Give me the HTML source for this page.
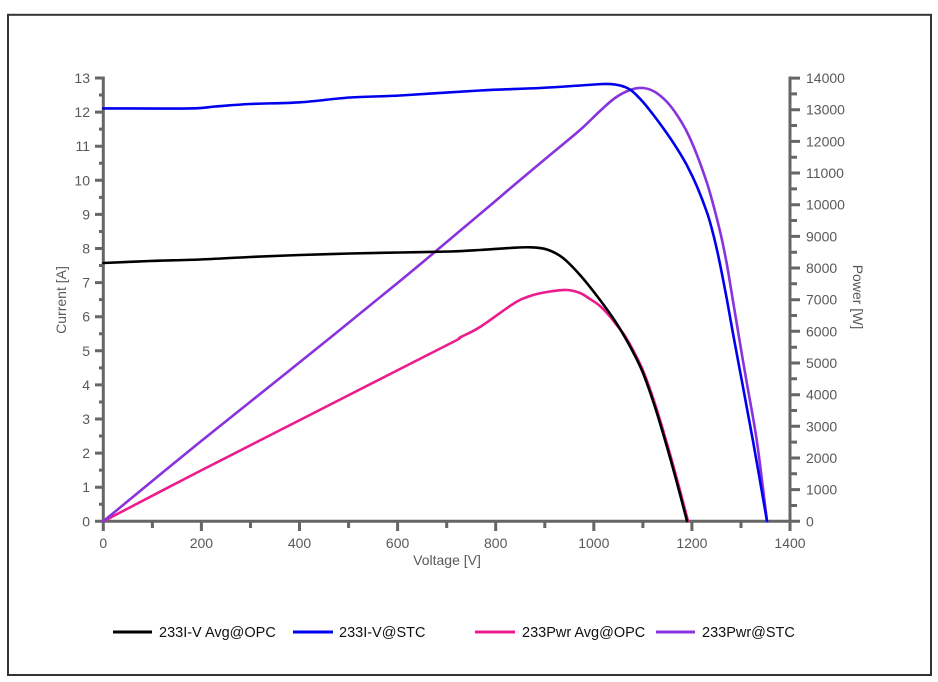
<!DOCTYPE html>
<html><head><meta charset="utf-8"><style>
html,body{margin:0;padding:0;background:#fff;}
svg{display:block;font-family:"Liberation Sans",Arial,sans-serif;}
</style></head><body>
<svg id="chart" width="938" height="682" viewBox="0 0 938 682" xmlns="http://www.w3.org/2000/svg">
<rect x="0" y="0" width="938" height="682" fill="#fff"/>
<rect x="8" y="14.8" width="923" height="660.2" fill="none" stroke="#333" stroke-width="2"/>

<g stroke="#666" stroke-width="3" fill="none">
<path d="M103.3 76.5 V522.8 M101.8 521.3 H791.5 M790 76.5 V522.8"/>
<path d="M95 521.3H103 M95 487.2H103 M95 453.1H103 M95 419H103 M95 384.9H103 M95 350.8H103 M95 316.7H103 M95 282.6H103 M95 248.5H103 M95 214.4H103 M95 180.3H103 M95 146.2H103 M95 112.1H103 M95 78H103"/>
<path d="M99 504.25H103 M99 470.15H103 M99 436.05H103 M99 401.95H103 M99 367.85H103 M99 333.75H103 M99 299.65H103 M99 265.55H103 M99 231.45H103 M99 197.35H103 M99 163.25H103 M99 129.15H103 M99 95.05H103"/>
<path d="M790 521.3H800 M790 489.6H800 M790 458H800 M790 426.3H800 M790 394.7H800 M790 363H800 M790 331.3H800 M790 299.7H800 M790 268H800 M790 236.4H800 M790 204.7H800 M790 173H800 M790 141.4H800 M790 109.7H800 M790 78.1H800"/>
<path d="M790 505.5H797 M790 473.8H797 M790 442.1H797 M790 410.5H797 M790 378.8H797 M790 347.2H797 M790 315.5H797 M790 283.8H797 M790 252.2H797 M790 220.5H797 M790 188.9H797 M790 157.2H797 M790 125.5H797 M790 93.9H797"/>
<path d="M103.3 521V531 M201.4 521V531 M299.5 521V531 M397.6 521V531 M495.7 521V531 M593.8 521V531 M691.9 521V531 M790 521V531"/>
<path d="M152.4 521V528 M250.5 521V528 M348.6 521V528 M446.7 521V528 M544.8 521V528 M642.9 521V528 M741 521V528"/>
</g>

<g fill="#595959" font-size="14">
<g text-anchor="end">
<text x="90" y="526.3">0</text><text x="90" y="492.2">1</text><text x="90" y="458.1">2</text><text x="90" y="424">3</text><text x="90" y="389.9">4</text><text x="90" y="355.8">5</text><text x="90" y="321.7">6</text><text x="90" y="287.6">7</text><text x="90" y="253.5">8</text><text x="90" y="219.4">9</text><text x="90" y="185.3">10</text><text x="90" y="151.2">11</text><text x="90" y="117.1">12</text><text x="90" y="83">13</text>
</g>
<g text-anchor="start">
<text x="806" y="526.3">0</text><text x="806" y="494.6">1000</text><text x="806" y="463">2000</text><text x="806" y="431.3">3000</text><text x="806" y="399.7">4000</text><text x="806" y="368">5000</text><text x="806" y="336.3">6000</text><text x="806" y="304.7">7000</text><text x="806" y="273">8000</text><text x="806" y="241.4">9000</text><text x="806" y="209.7">10000</text><text x="806" y="178">11000</text><text x="806" y="146.4">12000</text><text x="806" y="114.7">13000</text><text x="806" y="83.1">14000</text>
</g>
<g text-anchor="middle">
<text x="103.3" y="548">0</text><text x="201.4" y="548">200</text><text x="299.5" y="548">400</text><text x="397.6" y="548">600</text><text x="495.7" y="548">800</text><text x="593.8" y="548">1000</text><text x="691.9" y="548">1200</text><text x="790" y="548">1400</text>
<text x="447" y="565">Voltage [V]</text>
<text transform="translate(66,300) rotate(-90)">Current [A]</text>
<text transform="translate(853,297) rotate(90)">Power [W]</text>
</g>
</g>

<g id="curves" fill="none" stroke-width="2.6" stroke-linejoin="round" stroke-linecap="round">
<polyline stroke="#ec1c8c" points="103.3,521.3 200,471 300,420 400,369 455,341 460,337.5 480,327 513,304 530,296 547,292 567,290 580,293 590,299 600,306 610,316.5 617,325.5 624,334.5 634,352 644,373 656,407 668,447 678,483 688,521"/>
<polyline stroke="#8833dd" points="103.3,521.3 200,442 300,362 400,281 480,214 513,186 550,155 580,130 600,111 615,98 630,90 643,88 655,92 667,102 677,115 687,132 697,155 707,183 712,200 717,219 722,240 727,265 732,295 737,325 742,355 747,384 757,442 767,521"/>
<polyline stroke="#000" points="103.3,263 150,261 200,259.5 250,257 300,255 350,253.5 400,252.5 450,251.5 480,250 510,248 530,247.3 547,249.5 563,258 580,275 597,296 613,318 623,334 633,352 643,373 655,407 667,447 677,483 687,521"/>
<polyline stroke="#0000ee" points="103.3,108.4 190,108.4 215,106.5 250,104 300,102.3 350,97.5 400,95.5 480,90.5 540,88 580,85.5 603,84 615,84.5 625,87 632,91 643,102 655,117 667,133.5 677,148.5 687,165.5 697,186.5 707,212.5 712,229.5 717,250 722,274 727,300 732,328 737,355 743,387 753,441 767,521"/>
</g>

<g stroke-width="3">
<line x1="113" y1="632" x2="152" y2="632" stroke="#000"/>
<line x1="293" y1="632" x2="333" y2="632" stroke="#0000ee"/>
<line x1="475" y1="632" x2="515" y2="632" stroke="#ec1c8c"/>
<line x1="656" y1="632" x2="695" y2="632" stroke="#8833dd"/>
</g>
<g fill="#111" font-size="14.5">
<text x="159" y="637">233I-V Avg@OPC</text>
<text x="339" y="637">233I-V@STC</text>
<text x="522" y="637">233Pwr Avg@OPC</text>
<text x="702" y="637">233Pwr@STC</text>
</g>
</svg>
<script>
(function(){
  var ns="http://www.w3.org/2000/svg";
  var pls=document.querySelectorAll('#curves polyline');
  for(var k=0;k<pls.length;k++){
    var pl=pls[k];
    var raw=pl.getAttribute('points').trim().split(/\s+/);
    var p=raw.map(function(s){var a=s.split(',');return [parseFloat(a[0]),parseFloat(a[1])];});
    var d='M'+p[0][0]+' '+p[0][1];
    for(var i=0;i<p.length-1;i++){
      var p0=p[i-1]||p[i], p1=p[i], p2=p[i+1], p3=p[i+2]||p[i+1];
      var c1x=p1[0]+(p2[0]-p0[0])/6, c1y=p1[1]+(p2[1]-p0[1])/6;
      var c2x=p2[0]-(p3[0]-p1[0])/6, c2y=p2[1]-(p3[1]-p1[1])/6;
      d+=' C'+c1x.toFixed(2)+' '+c1y.toFixed(2)+' '+c2x.toFixed(2)+' '+c2y.toFixed(2)+' '+p2[0]+' '+p2[1];
    }
    var path=document.createElementNS(ns,'path');
    path.setAttribute('d',d);
    path.setAttribute('stroke',pl.getAttribute('stroke'));
    pl.parentNode.replaceChild(path,pl);
  }
})();
</script>
</body></html>
